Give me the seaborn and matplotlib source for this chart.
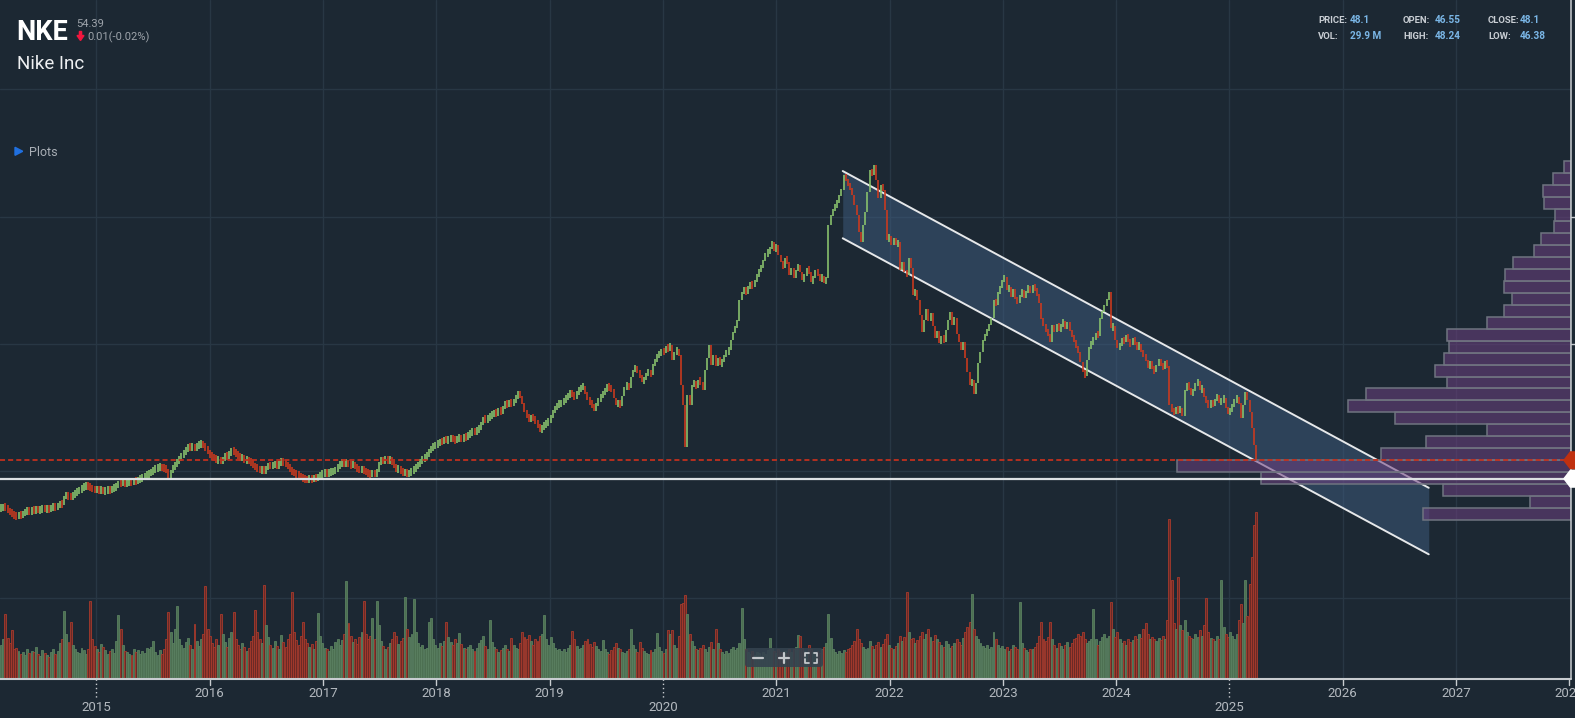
import numpy as np
import pandas as pd
import matplotlib
matplotlib.use("Agg")
import matplotlib.pyplot as plt
import matplotlib.transforms as mtransforms
from matplotlib.patches import Polygon, FancyBboxPatch
from matplotlib import font_manager as fm
import seaborn as sns

# weekly closes (first week ending 2014-02-28)
first_week = "2014-02-28"
closes = [
    34.4, 35.0, 34.6, 33.5, 32.6, 31.9, 31.2, 31.0, 31.6, 31.3,
    32.2, 33.0, 33.4, 32.9, 33.7, 33.4, 34.1, 33.5, 33.8, 34.4,
    34.0, 34.3, 33.9, 34.5, 35.0, 34.7, 35.6, 36.3, 35.9, 39.6,
    39.9, 39.3, 39.2, 40.0, 40.8, 41.5, 42.1, 42.9, 43.6, 43.9,
    43.4, 42.9, 42.4, 42.0,
    # 2015
    42.3, 41.8, 42.1, 41.5, 41.7, 42.3, 41.9, 42.5, 43.0, 43.3,
    45.2, 44.8, 45.3, 44.7, 45.1, 45.6, 45.2, 45.9, 45.6, 46.3,
    46.7, 47.4, 47.9, 48.6, 49.0, 49.6, 50.4, 50.9, 51.3, 51.7,
    51.2, 51.0, 50.6, 47.2, 50.3, 51.3, 52.6, 53.8, 55.0, 56.3,
    57.6, 58.8, 60.5, 59.6, 60.1, 59.4, 60.5, 61.0, 61.3, 60.7,
    59.4, 57.8,
    # 2016
    56.5, 55.8, 55.3, 54.4, 54.9, 53.6, 55.0, 56.3, 56.0, 57.1,
    58.8, 57.9, 57.1, 56.2, 55.3, 55.8, 54.2, 54.7, 53.9, 53.2,
    52.4, 51.3, 50.8, 50.2, 50.7, 49.8, 51.1, 52.5, 51.9, 52.4,
    52.8, 51.9, 53.0, 54.2, 53.4, 52.7, 51.7, 50.5, 49.6, 48.9,
    48.3, 48.0, 47.3, 46.9, 46.5, 46.1, 46.8, 46.5, 47.2, 46.9,
    47.6, 48.3,
    # 2017
    48.8, 49.2, 48.7, 49.4, 49.6, 49.9, 50.4, 52.1, 52.8, 53.8,
    53.0, 53.4, 52.6, 52.3, 52.9, 51.5, 50.9, 50.2, 50.8, 49.9,
    49.4, 49.0, 48.6, 49.2, 48.5, 49.6, 53.8, 54.6, 54.1, 55.0,
    54.3, 54.6, 53.4, 51.9, 50.4, 50.9, 49.8, 49.0, 49.5, 48.6,
    49.2, 49.9, 50.9, 51.6, 52.9, 53.8, 55.0, 55.6, 56.7, 58.1,
    59.6, 60.3,
    # 2018
    60.9, 61.3, 62.4, 62.0, 63.4, 62.8, 63.2, 63.8, 63.1, 62.8,
    63.5, 63.9, 63.2, 64.4, 64.0, 64.9, 65.9, 66.6, 66.3, 67.2,
    68.0, 69.7, 71.9, 71.4, 72.1, 73.0, 73.6, 74.4, 74.0, 75.2,
    74.7, 76.4, 78.4, 77.6, 78.8, 77.8, 79.4, 80.9, 82.6, 81.2,
    78.2, 74.5, 72.8, 71.1, 72.6, 72.0, 70.3, 69.0, 66.8, 68.4,
    69.2, 70.1, 70.9,
    # 2019
    72.5, 75.1, 76.2, 77.6, 78.0, 78.4, 79.6, 80.5, 81.6, 82.6,
    82.0, 80.7, 82.8, 83.9, 84.9, 85.6, 82.3, 80.0, 78.3, 77.5,
    75.4, 77.9, 79.6, 81.3, 82.5, 83.8, 85.5, 84.6, 84.2, 80.4,
    77.5, 78.8, 77.1, 81.3, 85.0, 85.9, 84.6, 89.2, 92.1, 93.4,
    91.3, 89.6, 87.5, 88.0, 90.9, 91.3, 90.0, 94.6, 95.9, 98.4,
    98.8, 100.1,
    # 2020
    99.7, 101.8, 100.9, 102.6, 96.3, 99.7, 100.5, 98.4, 85.9, 77.5,
    60.0, 81.7, 77.5, 85.9, 87.1, 84.6, 88.0, 87.1, 83.8, 92.1,
    97.2, 102.6, 94.2, 98.4, 93.8, 97.2, 94.6, 95.5, 98.4, 99.7,
    100.3, 104.7, 108.0, 110.2, 112.5, 121.4, 124.8, 125.9, 124.3, 126.8,
    128.0, 127.1, 129.5, 131.6, 134.0, 135.2, 137.9, 140.6, 141.3, 142.9,
    145.8, 142.0,
    # 2021
    144.4, 140.2, 137.3, 134.8, 139.0, 137.3, 131.9, 134.8, 130.6, 133.9,
    136.0, 133.1, 129.8, 131.4, 134.8, 133.1, 128.9, 130.6, 133.9, 131.9,
    129.8, 131.4, 128.5, 130.6, 152.8, 157.0, 159.0, 161.1, 161.9, 165.3,
    167.4, 173.7, 171.6, 169.5, 168.2, 165.3, 161.1, 157.0, 149.8, 145.5,
    152.8, 158.2, 166.5, 175.7, 173.7, 178.0, 171.6, 164.0, 169.5, 167.4,
    159.0, 146.5,
    # 2022
    148.2, 144.4, 147.3, 144.4, 145.6, 133.9, 137.3, 133.1, 131.9, 138.9,
    134.8, 123.5, 125.6, 121.4, 115.1, 108.0, 113.0, 117.5, 112.5, 116.0,
    110.5, 105.5, 108.5, 103.5, 106.0, 104.0, 109.0, 113.0, 116.4, 111.0,
    114.0, 107.0, 104.0, 100.5, 104.0, 97.2, 91.3, 85.9, 88.0, 82.2,
    86.5, 95.0, 99.5, 104.7, 106.8, 108.9, 111.0, 113.9, 121.4, 119.3,
    124.7, 126.4,
    # 2023
    129.8, 131.0, 125.5, 127.0, 122.5, 126.0, 122.0, 120.5, 123.0, 125.5,
    122.5, 125.0, 127.0, 124.5, 127.8, 125.5, 124.0, 120.0, 113.5, 111.0,
    108.5, 107.0, 104.0, 111.0, 108.0, 111.5, 108.5, 111.0, 112.3, 109.5,
    112.0, 108.5, 106.4, 104.2, 102.0, 99.5, 95.5, 91.3, 89.5, 96.3,
    101.6, 103.8, 104.7, 107.6, 106.4, 113.9, 116.4, 119.3, 121.4, 124.7,
    109.7, 110.5, 104.7,
    # 2024
    101.3, 102.6, 105.0, 103.8, 106.8, 104.0, 102.6, 105.5, 103.0, 101.3,
    102.8, 99.7, 98.4, 96.3, 93.0, 95.5, 93.0, 91.3, 94.2, 96.3,
    94.2, 93.0, 95.5, 94.0, 77.5, 75.0, 74.6, 75.8, 75.0, 76.3,
    72.9, 83.8, 86.3, 84.6, 81.7, 83.8, 86.3, 87.5, 83.8, 84.6,
    80.8, 78.8, 77.1, 78.8, 77.5, 79.6, 81.7, 78.3, 79.6, 80.4,
    76.3, 74.2,
    # 2025
    75.4, 77.1, 79.6, 80.4, 78.3, 72.1, 77.5, 82.9, 79.6, 74.6,
    67.9, 60.8, 54.39,
]

# weekly volume, millions
volumes = [
    38, 45, 72, 46, 40, 54, 33, 35, 31, 28, 30, 27, 33, 29, 31, 30, 36, 28, 26, 32,
    29, 27, 25, 30, 34, 28, 31, 40, 45, 75, 50, 41, 63, 38, 33, 30, 29, 35, 32, 28,
    34, 87, 44, 37, 33, 30, 39, 36, 32, 28, 31, 34, 29, 42, 71, 55, 38, 31, 30, 28,
    27, 33, 30, 32, 28, 31, 29, 35, 33, 36, 42, 30, 27, 32, 28, 33, 45, 74, 52, 40,
    55, 81, 44, 38, 35, 41, 46, 38, 34, 61, 42, 37, 45, 50, 103, 55, 48, 40, 36, 44,
    38, 72, 50, 41, 36, 46, 52, 74, 45, 38, 33, 40, 36, 31, 35, 42, 48, 77, 52, 44,
    40, 104, 60, 47, 38, 35, 42, 37, 33, 49, 41, 36, 45, 50, 96, 52, 43, 38, 48, 63,
    45, 40, 36, 39, 33, 42, 73, 48, 40, 35, 33, 31, 37, 34, 41, 45, 38, 43, 50, 108,
    62, 48, 41, 45, 39, 47, 52, 86, 50, 44, 48, 68, 45, 87, 60, 42, 37, 33, 36, 40,
    44, 52, 48, 39, 42, 46, 91, 55, 47, 50, 89, 52, 40, 36, 38, 33, 35, 63, 68, 45,
    38, 35, 40, 37, 42, 63, 47, 41, 38, 44, 40, 51, 39, 35, 33, 36, 38, 34, 31, 35,
    40, 43, 48, 37, 33, 65, 41, 36, 33, 30, 32, 35, 38, 34, 31, 46, 38, 35, 33, 40,
    52, 47, 44, 49, 42, 38, 45, 42, 48, 50, 71, 44, 38, 47, 40, 35, 32, 34, 31, 33,
    30, 35, 38, 53, 44, 37, 33, 35, 38, 42, 44, 39, 36, 41, 37, 34, 31, 43, 33, 30,
    28, 32, 36, 40, 35, 33, 30, 29, 31, 34, 56, 38, 33, 30, 41, 35, 31, 29, 28, 32,
    30, 33, 51, 36, 31, 29, 33, 54, 50, 54, 38, 35, 48, 83, 84, 93, 72, 50, 42, 37,
    34, 32, 35, 38, 33, 30, 36, 41, 34, 56, 40, 33, 30, 28, 31, 29, 33, 36, 32, 35,
    40, 79, 45, 33, 30, 28, 31, 27, 30, 29, 26, 30, 28, 32, 46, 35, 31, 29, 33, 30,
    28, 31, 29, 34, 30, 33, 36, 49, 48, 35, 31, 28, 38, 33, 30, 28, 31, 29, 33, 36,
    40, 72, 46, 34, 30, 28, 31, 29, 32, 30, 33, 35, 38, 42, 55, 45, 40, 36, 33, 35,
    42, 37, 34, 38, 41, 36, 39, 44, 50, 38, 35, 33, 37, 40, 48, 42, 47, 96, 52, 44,
    46, 40, 43, 48, 52, 45, 50, 56, 47, 42, 49, 45, 41, 38, 36, 42, 39, 35, 37, 40,
    44, 41, 38, 46, 52, 58, 63, 94, 55, 48, 44, 40, 37, 35, 38, 33, 36, 52, 44, 38,
    35, 37, 33, 36, 31, 34, 38, 36, 33, 85, 40, 35, 32, 30, 34, 33, 36, 40, 48, 63,
    45, 42, 47, 63, 44, 38, 35, 40, 37, 34, 38, 41, 36, 40, 44, 46, 50, 48, 52, 45,
    40, 42, 45, 78, 44, 38, 42, 47, 50, 46, 48, 85, 55, 47, 52, 44, 40, 42, 38, 45,
    41, 43, 48, 44, 50, 46, 55, 62, 50, 45, 47, 44, 42, 46, 43, 48, 44, 66, 177, 110,
    62, 55, 113, 60, 54, 66, 52, 48, 46, 44, 50, 47, 54, 48, 60, 90, 52, 46, 44, 42,
    48, 45, 110, 58, 50, 47, 52, 48, 45, 50, 66, 83, 62, 110, 70, 105, 135, 170, 185,
]

# volume profile (millions per 5-dollar bin, from the lowest bin up)
vp_base = 29.3
vp_step = 5.01
vp_vol = [858, 238, 742, 1798, 2285, 1102, 841, 487, 1017, 1293,
          1186, 716, 785, 733, 704, 716, 484, 385, 339, 385,
          379, 333, 211, 171, 95, 89, 153, 159, 101, 37]

# regression channel
chan_x = [2021.587, 2026.759]
chan_hi = [175.3, 42.9]
chan_lo = [147.2, 15.1]

last_price = 54.39
cursor_price = 46.7
years = list(range(2015, 2029))
big_years = [2015, 2020, 2025]
grid_prices = [209.5, 156.3, 103.0, 49.9, -3.2]
info = [("PRICE:", "48.1"), ("OPEN:", "46.55"), ("CLOSE:", "48.1"),
        ("VOL:", "29.9 M"), ("HIGH:", "48.24"), ("LOW:", "46.38")]

bg = "#1c2833"
grid_c = "#283744"
up_c = "#8cc66e"
dn_c = "#cf3a1d"

sns.set_theme(style="dark", rc={"axes.facecolor": bg, "figure.facecolor": bg,
                                "savefig.facecolor": bg})
names = {f.name for f in fm.fontManager.ttflist}
narrow = "Liberation Sans Narrow" if "Liberation Sans Narrow" in names else "Roboto"
plt.rcParams["font.family"] = [narrow, "DejaVu Sans"]

n = min(len(closes), len(volumes))
c = np.array(closes[:n])
v = np.array(volumes[:n])
dates = pd.date_range(first_week, periods=n, freq="W-FRI")
ndays = np.where(dates.is_leap_year, 366, 365)
t = dates.year + (dates.dayofyear - 1) / ndays

o = np.r_[c[0], c[:-1]]
up = c >= o
lo = np.minimum(o, c)
hi = np.maximum(o, c)
mid = (lo + hi) / 2
half = np.maximum((hi - lo) / 2, 1.6)

W, H = 1575, 718
fig = plt.figure(figsize=(W / 100, H / 100), dpi=100)
ax = fig.add_axes([0, 1 - 679.3 / H, 1570.7 / W, 679.3 / H])
ax_v = ax.twinx()
ax_v.set_ylim(0, 750)
ax_p = ax.twiny()
ax_p.set_xlim(9110, 0)
for a in (ax, ax_v, ax_p):
    a.set_xticks([])
    a.set_yticks([])
    a.grid(False)
    for s in a.spines.values():
        s.set_visible(False)
ax_v.patch.set_alpha(0)
ax_p.patch.set_alpha(0)

# grid
for yr in years[:-1]:
    ax.axvline(yr, color=grid_c, lw=1, zorder=0)
for gp in grid_prices:
    ax.axhline(gp, color=grid_c, lw=1, zorder=0)

# channel
ax.fill_between(chan_x, chan_lo, chan_hi, color="#3e5d80", alpha=0.5, lw=0, zorder=1)
sns.lineplot(x=chan_x, y=chan_hi, ax=ax, color="#e6e8ea", linewidth=1.4, zorder=2)
sns.lineplot(x=chan_x, y=chan_lo, ax=ax, color="#e6e8ea", linewidth=1.4, zorder=2)
ax.set_xlim(2014.149, 2028.012)
ax.set_ylim(-37.15, 246.8)
ax.set_xlabel("")
ax.set_ylabel("")

# price bars
ax.vlines(t, mid - half, mid + half, colors=np.where(up, up_c, dn_c), lw=1.15, zorder=3)

# volume bars
ax_v.bar(t, v, width=0.0172, color=np.where(up, "#4d7052", "#6b2a26"),
         edgecolor=np.where(up, "#5a8060", "#a83a2c"), lw=0.6)

# volume profile
centers = vp_base + vp_step * (np.arange(len(vp_vol)) + 0.5)
ax_p.barh(centers, vp_vol, height=vp_step, left=0,
          color=(0.43, 0.25, 0.50, 0.55), edgecolor="#6f7480", lw=1.1)

# price lines
ax_p.axhline(last_price, color="#c0301e", lw=1.3, dashes=(2.8, 1.7))
ax_p.axhline(cursor_price, color="#dcdfe2", lw=1.6)

blend = mtransforms.blended_transform_factory(ax_p.transAxes, ax_p.transData)
for price, col in ((last_price, "#c0300f"), (cursor_price, "#ffffff")):
    pts = [(0.9957, price), (0.9998, price + 3.5), (1.006, price + 3.5),
           (1.006, price - 3.5), (0.9998, price - 3.5)]
    ax_p.add_patch(Polygon(pts, closed=True, transform=blend, color=col,
                           clip_on=False, zorder=6))

# frame lines
ax_p.plot([0, 1], [0, 0], transform=ax_p.transAxes, color="#c8ccd0", lw=1.5, clip_on=False)
ax_p.plot([1, 1], [0, 1], transform=ax_p.transAxes, color="#c8ccd0", lw=1.1, clip_on=False)
for gp in grid_prices[1:3]:
    ax_p.plot([1, 1.004], [gp, gp], transform=blend, color="#c8ccd0", lw=1, clip_on=False)

# x ticks and year labels
xt = ax.get_xaxis_transform()
for yr in years:
    if yr in big_years:
        ax.plot([yr, yr], [0, -0.029], transform=xt, color="#c8ccd0", lw=1,
                ls=(0, (1, 2)), clip_on=False)
        ax.text(yr, -0.0415, str(yr), transform=xt, ha="center", va="center",
                fontsize=9.5, color="#b3b9bf")
    else:
        ax.plot([yr, yr], [0, -0.0088], transform=xt, color="#c8ccd0", lw=1, clip_on=False)
        ax.text(yr, -0.0202, str(yr), transform=xt, ha="center", va="center",
                fontsize=9.5, color="#b3b9bf")

# overlay in pixel coordinates
ov = fig.add_axes([0, 0, 1, 1])
ov.set_xlim(0, W)
ov.set_ylim(H, 0)
ov.axis("off")
ov.patch.set_alpha(0)

ov.text(16.5, 40, "NKE", fontsize=19.5, fontweight="bold", color="white", va="baseline")
ov.text(76, 27.3, "54.39", fontsize=8, color="#9ea4ab", va="baseline")
ov.add_patch(Polygon([(79.4, 31.5), (81.6, 31.5), (81.6, 35.5), (84, 35.5),
                      (80.5, 40.5), (77, 35.5), (79.4, 35.5)], closed=True, color="#f2163e"))
ov.text(87.7, 40, "0.01(-0.02%)", fontsize=8, color="#9ea4ab", va="baseline")
ov.text(17, 69, "Nike Inc", fontsize=13.5, color="#eef0f2", va="baseline")
ov.add_patch(Polygon([(15, 147.3), (15, 155.3), (22.7, 151.3)], closed=True, color="#2070e0"))
ov.text(29, 156, "Plots", fontsize=9, color="#a9afb6", va="baseline")

for k, (lab, val) in enumerate(info):
    col, row = k % 3, k // 3
    x0 = 1318 + col * 85
    yb = 23.3 + row * 16
    ov.text(x0, yb, lab, fontsize=6.8, fontweight="bold", color="#c9ced4", va="baseline")
    ov.text(x0 + 32, yb, val, fontsize=7.2, fontweight="bold", color="#7ab6e6", va="baseline")

# zoom control box
ov.add_patch(FancyBboxPatch((745, 648), 78, 19, boxstyle="round,pad=0,rounding_size=3",
                            fc="#34424e", ec="none", alpha=0.9))
ic = "#c3c7cb"
ov.plot([753, 763], [657.5, 657.5], color=ic, lw=1.6)
ov.plot([779, 789], [657.5, 657.5], color=ic, lw=1.6)
ov.plot([784, 784], [652.5, 662.5], color=ic, lw=1.6)
for cx, cy, dx, dy in ((805, 652.5, 1, 1), (817, 652.5, -1, 1), (805, 662.5, 1, -1), (817, 662.5, -1, -1)):
    ov.plot([cx, cx, cx + 3.5 * dx], [cy + 3.5 * dy, cy, cy], color=ic, lw=1.3)

fig.savefig("out.png", dpi=100, facecolor=bg)
